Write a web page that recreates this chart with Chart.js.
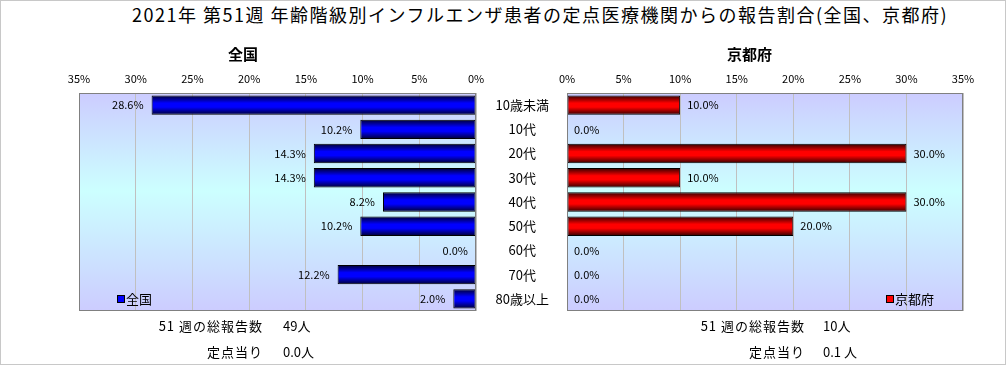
<!DOCTYPE html>
<html><head><meta charset="utf-8">
<script src="https://cdn.jsdelivr.net/npm/chart.js@4.4.1/dist/chart.umd.min.js"></script>
<style>
html,body{margin:0;padding:0;background:#fff;}
#wrap{position:relative;width:1006px;height:365px;overflow:hidden;font-family:"Noto Sans CJK JP","Noto Sans",sans-serif;color:#000;}
#frame{position:absolute;left:0;top:0;width:1006px;height:365px;box-sizing:border-box;border:1px solid #c8c8c8;pointer-events:none;}
.t{position:absolute;white-space:nowrap;line-height:1;}
.b{letter-spacing:1px;}
canvas{position:absolute;}
.sq{display:inline-block;width:6px;height:6px;border:1px solid #000;margin-right:1px;vertical-align:1px;}
</style></head><body>
<div id="wrap">
 <canvas id="cL" width="500" height="260" style="left:0;top:60px;"></canvas>
 <canvas id="cR" width="516" height="260" style="left:490px;top:60px;"></canvas>
 <div class="t" style="left:132px;top:5px;font-size:18px;letter-spacing:1.5px;">2021年 第51週 年齢階級別インフルエンザ患者の定点医療機関からの報告割合(全国、京都府)</div>
 <div class="t" style="left:228px;top:46px;font-size:15px;font-weight:bold;">全国</div>
 <div class="t" style="left:727px;top:46px;font-size:15px;font-weight:bold;">京都府</div>
 <div class="t" style="left:117px;top:292px;font-size:13px;"><span class="sq" style="background:#0000ff"></span>全国</div>
 <div class="t" style="left:886px;top:292px;font-size:13px;"><span class="sq" style="background:#ff0000"></span>京都府</div>
 <div class="t b" style="right:743px;top:319px;font-size:13px;">51 週の総報告数</div>
 <div class="t" style="left:283px;top:319px;font-size:13px;">49人</div>
 <div class="t b" style="right:743px;top:345px;font-size:13px;">定点当り</div>
 <div class="t" style="left:283px;top:345px;font-size:13px;">0.0人</div>
 <div class="t b" style="right:201px;top:319px;font-size:13px;">51 週の総報告数</div>
 <div class="t" style="left:823px;top:319px;font-size:13px;">10人</div>
 <div class="t b" style="right:201px;top:345px;font-size:13px;">定点当り</div>
 <div class="t" style="left:823px;top:345px;font-size:13px;">0.1 人</div>
 <div id="frame"></div>
</div>
<script>
const categories = ['10歳未満','10代','20代','30代','40代','50代','60代','70代','80歳以上'];
const nationalValues = [28.6, 10.2, 14.3, 14.3, 8.2, 10.2, 0.0, 12.2, 2.0];
const kyotoValues = [10.0, 0.0, 30.0, 10.0, 30.0, 20.0, 0.0, 0.0, 0.0];
const xTickValues = [0, 5, 10, 15, 20, 25, 30, 35];

const FONT = '"Noto Sans CJK JP","Noto Sans",sans-serif';

const bgPlugin = {
  id: 'bgPlugin',
  beforeDraw(chart) {
    const a = chart.chartArea, c = chart.ctx;
    const g = c.createLinearGradient(0, a.top, 0, a.bottom);
    g.addColorStop(0, '#ccccff');
    g.addColorStop(0.45, '#ccffff');
    g.addColorStop(1, '#ccccff');
    c.save();
    c.fillStyle = g;
    c.fillRect(a.left, a.top, a.right - a.left, a.bottom - a.top);
    c.restore();
  },
  afterDatasetsDraw(chart, args, opts) {
    const a = chart.chartArea, c = chart.ctx;
    c.save();
    c.strokeStyle = '#808080';
    c.lineWidth = 1;
    c.strokeRect(a.left + 0.5, a.top + 0.5, a.right - a.left - 1, a.bottom - a.top - 1);
    const meta = chart.getDatasetMeta(0);
    const vals = chart.data.datasets[0].data;
    c.font = '11px ' + FONT;
    c.fillStyle = '#000';
    c.textBaseline = 'middle';
    meta.data.forEach((el, i) => {
      const txt = vals[i].toFixed(1) + '%';
      if (opts.side === 'left') {
        c.textAlign = 'right';
        c.fillText(txt, el.x - 8, el.y);
      } else {
        c.textAlign = 'left';
        c.fillText(txt, el.x + 7, el.y);
      }
    });
    c.restore();
  }
};

function barFill(dark, bright) {
  return function(ctx) {
    const chart = ctx.chart;
    const ys = chart.scales && chart.scales.y;
    if (ctx.dataIndex === undefined || !ys || !chart.chartArea) return bright;
    const cy = ys.getPixelForValue(ctx.dataIndex);
    const h = 10;
    const g = chart.ctx.createLinearGradient(0, cy - h, 0, cy + h);
    g.addColorStop(0, dark);
    g.addColorStop(0.4, bright);
    g.addColorStop(0.6, bright);
    g.addColorStop(1, dark);
    return g;
  };
}

function xScale(reverse) {
  return {
    type: 'linear', position: 'top', reverse: reverse, min: 0, max: 35,
    afterBuildTicks: s => { s.ticks = xTickValues.map(v => ({ value: v })); },
    afterFit: s => { s.height = 33; },
    grid: { color: '#c0c0c0', drawTicks: false },
    border: { display: false },
    ticks: { color: '#000', padding: 8, font: { size: 11, family: FONT }, callback: v => v + '%', maxRotation: 0 }
  };
}

new Chart(document.getElementById('cL'), {
  type: 'bar',
  data: { labels: categories, datasets: [{ label: '全国', data: nationalValues,
    backgroundColor: barFill('#000028', '#0000ff'), borderColor: '#000', borderWidth: 1, borderSkipped: false,
    barPercentage: 0.8, categoryPercentage: 1 }] },
  options: {
    indexAxis: 'y', responsive: false, animation: false, devicePixelRatio: 1,
    layout: { padding: { left: 79, right: 24, top: 0, bottom: 9 } },
    scales: { x: xScale(true), y: { display: false } },
    plugins: { legend: { display: false }, tooltip: { enabled: false }, bgPlugin: { side: 'left' } }
  },
  plugins: [bgPlugin]
});

new Chart(document.getElementById('cR'), {
  type: 'bar',
  data: { labels: categories, datasets: [{ label: '京都府', data: kyotoValues,
    backgroundColor: barFill('#280000', '#ff0000'), borderColor: '#000', borderWidth: 1, borderSkipped: false,
    barPercentage: 0.8, categoryPercentage: 1 }] },
  options: {
    indexAxis: 'y', responsive: false, animation: false, devicePixelRatio: 1,
    layout: { padding: { left: 0, right: 43, top: 0, bottom: 9 } },
    scales: {
      x: xScale(false),
      y: { position: 'left', afterFit: s => { s.width = 77; s.paddingTop = 0; s.paddingBottom = 0; },
        grid: { display: false }, border: { display: false },
        ticks: { color: '#000', crossAlign: 'center', padding: 10, font: { size: 13, family: FONT } } }
    },
    plugins: { legend: { display: false }, tooltip: { enabled: false }, bgPlugin: { side: 'right' } }
  },
  plugins: [bgPlugin]
});
</script>
</body></html>
